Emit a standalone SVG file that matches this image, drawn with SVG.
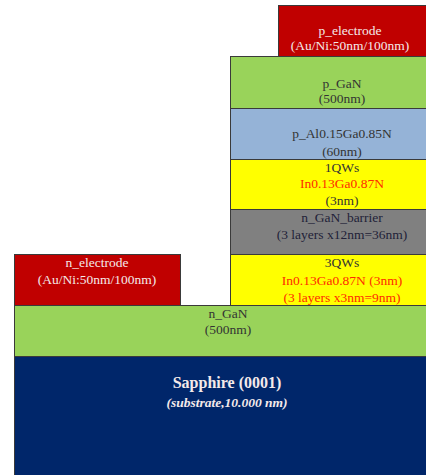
<svg xmlns="http://www.w3.org/2000/svg" width="426" height="475" viewBox="0 0 426 475">
<style>
rect{stroke:#3a3a3a;stroke-width:1}
text{font-family:"Liberation Serif","Times New Roman",serif;font-size:13.5px;text-anchor:middle;fill:#333}
.w{fill:#f4eaea}
.r{fill:#ff2a00}
.red{fill:#c00000}
.grn{fill:#99d35a}
.blu{fill:#95b3d7}
.yel{fill:#ffff00}
.gry{fill:#808080}
.nav{fill:#00266a}
</style>
<rect width="426" height="475" style="fill:#ffffff;stroke:none"/>
<g id="sapphire">
<rect class="nav" x="14.5" y="356.5" width="430" height="130"/>
<text x="227" y="388" class="w" style="font-weight:bold;font-size:16px">Sapphire (0001)</text>
<text x="227" y="407" class="w" style="font-weight:bold;font-style:italic;font-size:13.5px">(substrate,10.000 nm)</text>
</g>
<g id="n_GaN">
<rect class="grn" x="14.5" y="305.5" width="430" height="51"/>
<text x="228" y="318">n_GaN</text>
<text x="228" y="334">(500nm)</text>
</g>
<g id="n_electrode">
<rect class="red" x="14.5" y="254.5" width="166" height="51"/>
<text x="97" y="267" class="w">n_electrode</text>
<text x="97" y="284" class="w">(Au/Ni:50nm/100nm)</text>
</g>
<g id="qw3">
<rect class="yel" x="230.5" y="254.5" width="220" height="51"/>
<text x="342" y="267">3QWs</text>
<text x="342" y="285" class="r">In0.13Ga0.87N (3nm)</text>
<text x="342" y="302" class="r">(3 layers x3nm=9nm)</text>
</g>
<g id="barrier">
<rect class="gry" x="230.5" y="209.5" width="220" height="45"/>
<text x="342" y="222" style="fill:#222238">n_GaN_barrier</text>
<text x="342" y="239" style="fill:#222238">(3 layers x12nm=36nm)</text>
</g>
<g id="qw1">
<rect class="yel" x="230.5" y="159.5" width="220" height="50"/>
<text x="342" y="172">1QWs</text>
<text x="342" y="188" class="r">In0.13Ga0.87N</text>
<text x="342" y="205">(3nm)</text>
</g>
<g id="p_AlGaN">
<rect class="blu" x="230.5" y="108.5" width="220" height="51"/>
<text x="342" y="138">p_Al0.15Ga0.85N</text>
<text x="342" y="156">(60nm)</text>
</g>
<g id="p_GaN">
<rect class="grn" x="230.5" y="56.5" width="220" height="52"/>
<text x="342" y="88">p_GaN</text>
<text x="342" y="103">(500nm)</text>
</g>
<g id="p_electrode">
<rect class="red" x="278.5" y="5.5" width="170" height="51"/>
<text x="350" y="35" class="w">p_electrode</text>
<text x="350" y="50" class="w">(Au/Ni:50nm/100nm)</text>
</g>
</svg>
